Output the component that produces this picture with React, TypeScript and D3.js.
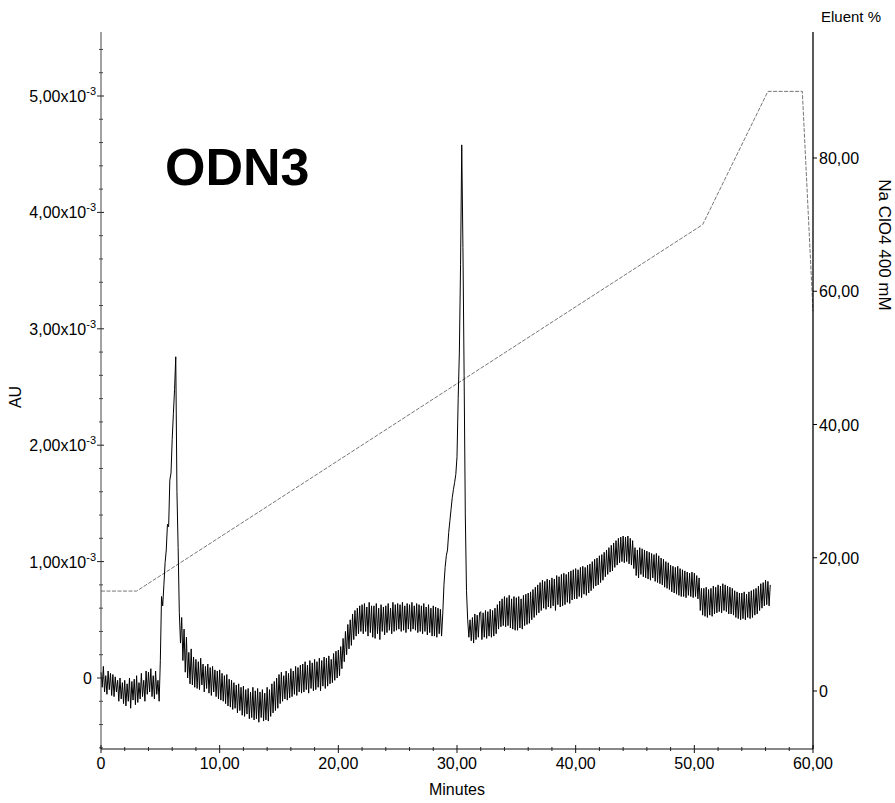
import React from "react";
import * as d3 from "d3";

// ---- data ----
// Chromatogram absorbance (units of 1e-3 AU), sampled every 0.1 min from 0 min
const STEP = 0.1;
const absorbance: number[] = [
  // 0
  0.05, -0.08, 0.10, -0.12, 0.02, -0.14, 0.06, -0.10, 0.04, -0.15,
  // 1
  0.03, -0.16, 0.01, -0.12, -0.02, -0.20, 0.00, -0.18, -0.04, -0.22,
  // 2
  -0.02, -0.24, -0.05, -0.20, 0.00, -0.26, -0.03, -0.19, -0.01, -0.23,
  // 3
  0.02, -0.21, -0.04, -0.18, 0.04, -0.16, -0.02, -0.20, 0.06, -0.14,
  // 4
  0.05, -0.12, 0.08, -0.16, 0.02, -0.18, 0.06, -0.14, -0.02, -0.20,
  // 5
  0.15, 0.70, 0.62, 0.80, 0.99, 1.10, 1.32, 1.30, 1.70, 1.76,
  // 6
  2.05, 2.27, 2.48, 2.76, 1.60, 1.12, 0.56, 0.30, 0.52, 0.15,
  // 7
  0.42, 0.05, 0.35, 0.00, 0.22, -0.05, 0.25, -0.06, 0.18, -0.08,
  // 8
  0.16, -0.09, 0.14, -0.10, 0.17, -0.06, 0.12, -0.12, 0.10, -0.09,
  // 9
  0.12, -0.13, 0.09, -0.15, 0.10, -0.12, 0.07, -0.16, 0.06, -0.18,
  // 10
  0.07, -0.19, 0.04, -0.20, 0.02, -0.22, 0.03, -0.24, -0.01, -0.25,
  // 11
  -0.02, -0.27, -0.04, -0.26, -0.06, -0.30, -0.05, -0.28, -0.08, -0.32,
  // 12
  -0.07, -0.33, -0.10, -0.31, -0.09, -0.35, -0.12, -0.34, -0.08, -0.36,
  // 13
  -0.11, -0.35, -0.09, -0.38, -0.12, -0.34, -0.10, -0.37, -0.13, -0.36,
  // 14
  -0.08, -0.37, -0.10, -0.33, -0.05, -0.30, -0.03, -0.28, 0.00, -0.26,
  // 15
  0.03, -0.22, 0.05, -0.20, 0.02, -0.18, 0.06, -0.19, 0.04, -0.17,
  // 16
  0.08, -0.16, 0.06, -0.14, 0.10, -0.15, 0.09, -0.12, 0.11, -0.13,
  // 17
  0.12, -0.12, 0.14, -0.10, 0.11, -0.13, 0.15, -0.09, 0.13, -0.11,
  // 18
  0.16, -0.10, 0.14, -0.08, 0.17, -0.11, 0.15, -0.07, 0.18, -0.09,
  // 19
  0.17, -0.07, 0.19, -0.05, 0.16, -0.04, 0.21, -0.02, 0.23, 0.00,
  // 20
  0.24, 0.02, 0.27, 0.08, 0.34, 0.14, 0.40, 0.20, 0.46, 0.25,
  // 21
  0.50, 0.28, 0.55, 0.33, 0.58, 0.36, 0.60, 0.38, 0.62, 0.40,
  // 22
  0.63, 0.38, 0.64, 0.40, 0.61, 0.36, 0.65, 0.39, 0.62, 0.35,
  // 23
  0.62, 0.34, 0.64, 0.38, 0.60, 0.33, 0.63, 0.40, 0.61, 0.37,
  // 24
  0.62, 0.39, 0.64, 0.41, 0.60, 0.38, 0.65, 0.40, 0.63, 0.41,
  // 25
  0.64, 0.42, 0.63, 0.40, 0.65, 0.41, 0.62, 0.39, 0.64, 0.42,
  // 26
  0.63, 0.40, 0.65, 0.42, 0.62, 0.41, 0.64, 0.39, 0.63, 0.40,
  // 27
  0.62, 0.38, 0.64, 0.40, 0.61, 0.37, 0.63, 0.39, 0.60, 0.36,
  // 28
  0.62, 0.36, 0.61, 0.35, 0.60, 0.38, 0.59, 0.36, 0.55, 0.80,
  // 29
  0.95, 1.05, 1.10, 1.25, 1.35, 1.45, 1.55, 1.62, 1.68, 1.75,
  // 30
  1.90, 2.40, 2.80, 3.55, 4.58, 3.70, 2.60, 1.40, 0.75, 0.50,
  // 31
  0.35, 0.50, 0.32, 0.52, 0.30, 0.55, 0.33, 0.54, 0.35, 0.56,
  // 32
  0.57, 0.33, 0.56, 0.35, 0.58, 0.34, 0.57, 0.36, 0.59, 0.35,
  // 33
  0.58, 0.36, 0.60, 0.38, 0.63, 0.42, 0.66, 0.44, 0.68, 0.45,
  // 34
  0.70, 0.44, 0.69, 0.45, 0.71, 0.43, 0.68, 0.42, 0.70, 0.41,
  // 35
  0.69, 0.41, 0.70, 0.43, 0.68, 0.42, 0.71, 0.45, 0.72, 0.46,
  // 36
  0.73, 0.47, 0.74, 0.50, 0.76, 0.52, 0.78, 0.54, 0.80, 0.56,
  // 37
  0.82, 0.58, 0.84, 0.60, 0.83, 0.59, 0.85, 0.61, 0.84, 0.60,
  // 38
  0.86, 0.62, 0.85, 0.58, 0.88, 0.63, 0.87, 0.61, 0.89, 0.62,
  // 39
  0.90, 0.63, 0.89, 0.65, 0.91, 0.64, 0.92, 0.67, 0.93, 0.68,
  // 40
  0.94, 0.68, 0.93, 0.70, 0.95, 0.69, 0.96, 0.72, 0.95, 0.71,
  // 41
  0.97, 0.73, 0.98, 0.75, 1.00, 0.77, 1.02, 0.79, 1.03, 0.80,
  // 42
  1.05, 0.82, 1.06, 0.84, 1.08, 0.87, 1.10, 0.89, 1.12, 0.91,
  // 43
  1.14, 0.92, 1.16, 0.95, 1.18, 0.97, 1.20, 0.99, 1.21, 1.00,
  // 44
  1.22, 0.99, 1.21, 1.00, 1.22, 0.98, 1.20, 0.97, 1.18, 0.94,
  // 45
  1.12, 0.88, 1.10, 0.86, 1.12, 0.89, 1.11, 0.87, 1.10, 0.86,
  // 46
  1.09, 0.85, 1.08, 0.84, 1.07, 0.86, 1.06, 0.83, 1.07, 0.82,
  // 47
  1.05, 0.81, 1.03, 0.80, 1.02, 0.78, 1.00, 0.77, 0.99, 0.76,
  // 48
  0.97, 0.74, 0.96, 0.73, 0.95, 0.72, 0.96, 0.71, 0.94, 0.70,
  // 49
  0.93, 0.70, 0.92, 0.69, 0.91, 0.71, 0.90, 0.70, 0.91, 0.69,
  // 50
  0.90, 0.70, 0.88, 0.68, 0.86, 0.58, 0.77, 0.54, 0.77, 0.53,
  // 51
  0.78, 0.52, 0.76, 0.54, 0.77, 0.53, 0.79, 0.55, 0.78, 0.56,
  // 52
  0.80, 0.57, 0.79, 0.56, 0.81, 0.58, 0.80, 0.57, 0.79, 0.55,
  // 53
  0.78, 0.55, 0.77, 0.54, 0.75, 0.52, 0.74, 0.51, 0.73, 0.50,
  // 54
  0.73, 0.51, 0.74, 0.50, 0.72, 0.52, 0.74, 0.51, 0.75, 0.52,
  // 55
  0.76, 0.54, 0.77, 0.55, 0.79, 0.58, 0.81, 0.60, 0.82, 0.62,
  // 56
  0.84, 0.63, 0.83, 0.62, 0.80,
];

// Eluent gradient (% NaClO4 400 mM)
const gradientTimes = [0, 3, 50.7, 56.2, 59.1, 60];
const gradientPercent = [15, 15, 70, 90, 90, 57];

// Axes ticks
const xMajorTicks = [0, 10, 20, 30, 40, 50, 60];
const xTickLabels = ["0", "10,00", "20,00", "30,00", "40,00", "50,00", "60,00"];
const leftMajorTicks = [0, 1, 2, 3, 4, 5];
const leftTickLabels = ["0", "1,00", "2,00", "3,00", "4,00", "5,00"];
const rightMajorTicks = [0, 20, 40, 60, 80];
const rightTickLabels = ["0", "20,00", "40,00", "60,00", "80,00"];

const FONT = "'Liberation Sans', Arial, Helvetica, sans-serif";

export default function App() {
  const W = 895;
  const H = 803;
  const top = 32;
  const bottom = 749;
  const x = d3.scaleLinear().domain([0, 60]).range([101, 813]);
  const yL = d3.scaleLinear().domain([0, 5]).range([678, 96]);
  const yR = d3.scaleLinear().domain([0, 80]).range([691, 158]);
  const left = x(0);
  const right = x(60);

  const traceLine = d3
    .line<number>()
    .x((_, i) => x(i * STEP))
    .y((v) => yL(v));

  const gradLine = d3
    .line<number>()
    .x((_, i) => x(gradientTimes[i]))
    .y((v) => yR(v));

  const xMinor = d3.range(0, 60.001, 2).filter((t) => t % 10 !== 0);
  const lMinor = d3.range(-0.6, 5.5, 0.2).map((v) => Math.round(v * 10) / 10).filter(
    (v) => Math.abs(v - Math.round(v)) > 0.01 && yL(v) >= top && yL(v) <= bottom
  );

  return (
    <svg
      width={W}
      height={H}
      style={{ position: "absolute", left: 0, top: 0, background: "#fff" }}
      fontFamily={FONT}
    >
      <rect x={0} y={0} width={W} height={H} fill="#fff" />

      {/* gradient line */}
      <path
        d={gradLine(gradientPercent) || ""}
        fill="none"
        stroke="#666"
        strokeWidth={0.9}
        strokeDasharray="4 1.5"
      />

      {/* chromatogram */}
      <path d={traceLine(absorbance) || ""} fill="none" stroke="#000" strokeWidth={1} />

      {/* left axis */}
      <line x1={left} x2={left} y1={top} y2={bottom} stroke="#444" strokeWidth={1} />
      {leftMajorTicks.map((v) => (
        <line key={"lm" + v} x1={left - 4} x2={left + 3} y1={yL(v)} y2={yL(v)} stroke="#222" />
      ))}
      {lMinor.map((v) => (
        <line key={"ln" + v} x1={left - 2} x2={left + 2} y1={yL(v)} y2={yL(v)} stroke="#444" />
      ))}
      {leftMajorTicks.map((v, i) =>
        v === 0 ? (
          <text key={"ll" + v} x={92} y={yL(v) + 6} fontSize={16} textAnchor="end" fill="#000">
            0
          </text>
        ) : (
          <text key={"ll" + v} x={96} y={yL(v) + 6} fontSize={16} textAnchor="end" fill="#000">
            {leftTickLabels[i]}x10
            <tspan fontSize={11} dy={-7}>
              -3
            </tspan>
          </text>
        )
      )}
      <text
        transform={`translate(21, 397) rotate(-90)`}
        fontSize={16}
        textAnchor="middle"
        fill="#000"
      >
        AU
      </text>

      {/* bottom axis */}
      <line x1={left} x2={right} y1={bottom} y2={bottom} stroke="#111" strokeWidth={1} />
      {xMajorTicks.map((t) => (
        <line key={"xm" + t} x1={x(t)} x2={x(t)} y1={bottom - 4} y2={bottom + 4} stroke="#111" />
      ))}
      {xMinor.map((t) => (
        <line key={"xn" + t} x1={x(t)} x2={x(t)} y1={bottom - 2} y2={bottom + 2} stroke="#222" />
      ))}
      {xMajorTicks.map((t, i) => (
        <text key={"xl" + t} x={x(t)} y={769} fontSize={16} textAnchor="middle" fill="#000">
          {xTickLabels[i]}
        </text>
      ))}
      <text x={x(30)} y={795} fontSize={16} textAnchor="middle" fill="#000">
        Minutes
      </text>

      {/* right axis */}
      <line x1={right} x2={right} y1={top} y2={bottom} stroke="#000" strokeWidth={1.3} />
      {rightMajorTicks.map((v) => (
        <line key={"rm" + v} x1={right} x2={right + 4} y1={yR(v)} y2={yR(v)} stroke="#000" />
      ))}
      {rightMajorTicks.map((v, i) => (
        <text key={"rl" + v} x={right + 6} y={yR(v) + 6} fontSize={16} textAnchor="start" fill="#000">
          {rightTickLabels[i]}
        </text>
      ))}
      <text x={851} y={22} fontSize={15} textAnchor="middle" fill="#000">
        Eluent %
      </text>
      <text
        transform={`translate(879, 245) rotate(90)`}
        fontSize={17}
        textAnchor="middle"
        fill="#000"
      >
        Na ClO4 400 mM
      </text>

      {/* sample label */}
      <text x={165} y={185} fontSize={52} fontWeight="bold" fill="#000">
        ODN3
      </text>
    </svg>
  );
}
